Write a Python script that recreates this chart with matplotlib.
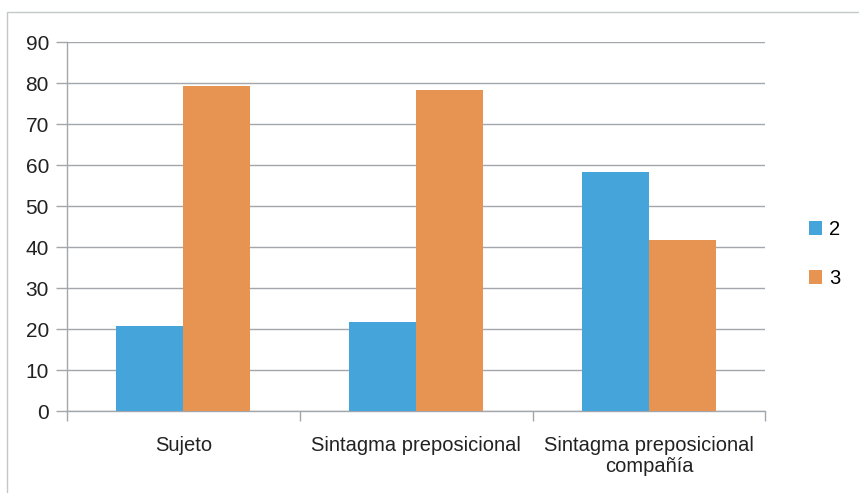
import numpy as np
import matplotlib.pyplot as plt
from matplotlib.patches import Rectangle

plt.rcParams['font.family'] = ['Liberation Sans', 'DejaVu Sans']

# Categories and series values (percent)
categories = ['Sujeto', 'Sintagma preposicional', 'Sintagma preposicional\ncompañía']
series_names = ['2', '3']
values_2 = [20.7, 21.6, 58.4]
values_3 = [79.3, 78.4, 41.6]
y_ticks = list(range(0, 100, 10))

blue = '#45A5DB'
orange = '#E79452'
grid_col = '#A3A7AC'

fig = plt.figure(figsize=(8.59, 4.93), dpi=100)
ax = fig.add_axes([0.078, 0.1663, 0.813, 0.7485])

# light frame around the chart area
fig.patches.append(Rectangle((7 / 859, -0.05), 2.0, 1 - 12 / 493 + 0.05,
                             transform=fig.transFigure, fill=False,
                             edgecolor='#C4C7CA', linewidth=1.0))

x = np.arange(len(categories))
w = 0.2875
ax.bar(x - w / 2, values_2, w, color=blue, label=series_names[0], zorder=3)
ax.bar(x + w / 2, values_3, w, color=orange, label=series_names[1], zorder=3)

ax.set_xlim(-0.5, len(categories) - 0.5)
ax.set_ylim(0, 90)
ax.set_yticks(y_ticks)
ax.yaxis.grid(True, color=grid_col, linewidth=1.0, zorder=0)

for s in ['top', 'right']:
    ax.spines[s].set_visible(False)
for s in ['left', 'bottom']:
    ax.spines[s].set_color(grid_col)
    ax.spines[s].set_linewidth(1.0)

# tick marks between categories on the x axis
ax.set_xticks(np.arange(len(categories) + 1) - 0.5)
ax.set_xticklabels([])
ax.set_xticks(x, minor=True)
ax.set_xticklabels(categories, minor=True, fontsize=14.5, color='#222222',
                   linespacing=1.15)
ax.tick_params(axis='x', which='major', length=7, color=grid_col, width=1.0)
ax.tick_params(axis='x', which='minor', length=0, pad=18)
ax.tick_params(axis='y', length=8, color=grid_col, width=1.0, labelsize=15,
               labelcolor='#222222', pad=5)

ax.legend(loc='center left', bbox_to_anchor=(1.036, 0.425), frameon=False,
          fontsize=14.5, handlelength=0.65, handleheight=0.65,
          handletextpad=0.35, labelspacing=1.5)

fig.savefig('out.png', dpi=100)
